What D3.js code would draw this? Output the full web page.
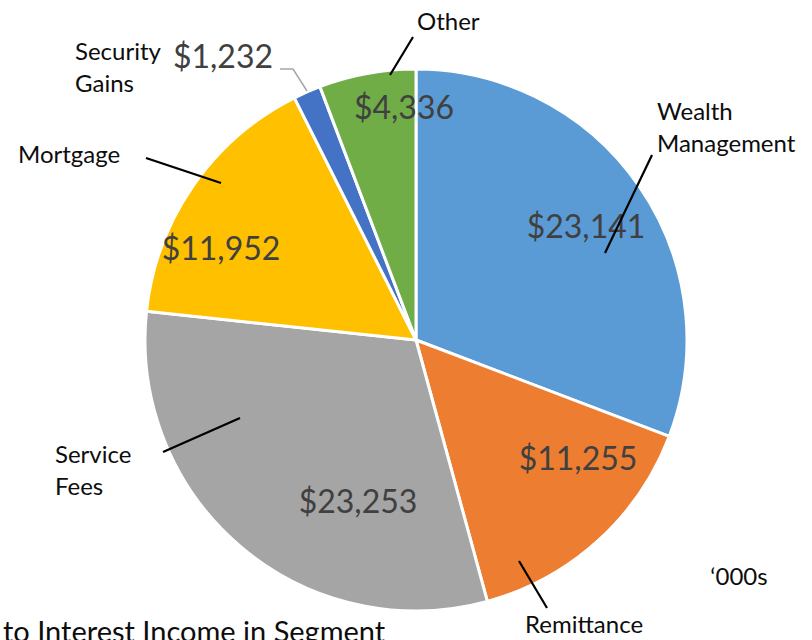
<!DOCTYPE html>
<html>
<head>
<meta charset="utf-8">
<script src="https://cdn.jsdelivr.net/npm/d3@7"></script>
<style>
  body { margin: 0; background: #fff; }
  svg { display: block; font-family: Lato, "Open Sans", sans-serif; }
</style>
</head>
<body>
<div id="chart"></div>
<script>
// data ('000s)
var categories = ['Wealth Management', 'Remittance', 'Service Fees', 'Mortgage', 'Security Gains', 'Other'];
var values = [23141, 11255, 23253, 11952, 1232, 4336];
var colors = ['#5b9bd5', '#ed7d31', '#a5a5a5', '#ffc000', '#4472c4', '#70ad47'];

// hand placed labels, relative to pie centre (like Excel's dragged labels)
var layout = {
  'Wealth Management': { val: [170, -102], name: [241, -220], lines: ['Wealth', 'Management'], anchor: 'start', lead: [[236, -185], [189, -87]] },
  'Remittance':        { val: [162, 130],  name: [109, 293],  lines: ['Remittance'], anchor: 'start', lead: [[103, 221], [131, 268]] },
  'Service Fees':      { val: [-58, 173],  name: [-361, 123], lines: ['Service', 'Fees'], anchor: 'start', lead: [[-253, 112], [-176, 78]] },
  'Mortgage':          { val: [-195, -80], name: [-398, -177], lines: ['Mortgage'], anchor: 'start', lead: [[-270, -182], [-195, -157]] },
  'Security Gains':    { val: [-193, -272], name: [-341, -280], lines: ['Security', 'Gains'], anchor: 'start', lead: [[-136, -271], [-123, -271], [-109, -249]], leadColor: '#a6a6a6', leadWidth: 1.5 },
  'Other':             { val: [-12, -221], name: [1, -310],  lines: ['Other'], anchor: 'start', lead: [[-26, -265], [-3, -303]] }
};

var W = 812, H = 640;
var cx = 416, cy = 340, R = 271;

var svg = d3.select('#chart').append('svg')
  .attr('width', W)
  .attr('height', H);

var data = categories.map(function(c, i) { return { name: c, value: values[i], color: colors[i] }; });

var pie = d3.pie()
  .sort(null)
  .value(function(d) { return d.value; });

var arc = d3.arc()
  .innerRadius(0)
  .outerRadius(R);

var g = svg.append('g')
  .attr('transform', 'translate(' + cx + ',' + cy + ')');

g.selectAll('path.slice')
  .data(pie(data))
  .enter()
  .append('path')
  .attr('class', 'slice')
  .attr('d', arc)
  .attr('fill', function(d) { return d.data.color; })
  .attr('stroke', '#fff')
  .attr('stroke-width', 3)
  .attr('stroke-linejoin', 'round');

var fmt = d3.format('$,');

// value labels
g.selectAll('text.val')
  .data(data)
  .enter()
  .append('text')
  .attr('class', 'val')
  .attr('x', function(d) { return layout[d.name].val[0]; })
  .attr('y', function(d) { return layout[d.name].val[1]; })
  .attr('text-anchor', 'middle')
  .attr('fill', '#404040')
  .attr('font-size', '32px')
  .text(function(d) { return fmt(d.value); });

// leader lines
var line = d3.line();
g.selectAll('path.lead')
  .data(data)
  .enter()
  .append('path')
  .attr('class', 'lead')
  .attr('d', function(d) { return line(layout[d.name].lead); })
  .attr('fill', 'none')
  .attr('stroke', function(d) { return layout[d.name].leadColor || '#000'; })
  .attr('stroke-width', function(d) { return layout[d.name].leadWidth || 2.2; });

// category labels
g.selectAll('text.name')
  .data(data)
  .enter()
  .append('text')
  .attr('class', 'name')
  .attr('x', function(d) { return layout[d.name].name[0]; })
  .attr('y', function(d) { return layout[d.name].name[1]; })
  .attr('text-anchor', function(d) { return layout[d.name].anchor; })
  .attr('fill', '#0d0d0d')
  .attr('font-size', '24px')
  .each(function(d) {
    var t = d3.select(this);
    layout[d.name].lines.forEach(function(s, i) {
      t.append('tspan')
        .attr('x', layout[d.name].name[0])
        .attr('dy', i === 0 ? 0 : 32)
        .text(s);
    });
  });

// units note
svg.append('text')
  .attr('x', 739)
  .attr('y', 585)
  .attr('text-anchor', 'middle')
  .attr('fill', '#0d0d0d')
  .attr('font-size', '24px')
  .text('\u2018000s');

// title that runs off the bottom edge
svg.append('text')
  .attr('x', 3)
  .attr('y', 642)
  .attr('fill', '#0d0d0d')
  .attr('font-size', '29px')
  .text('to Interest Income in Segment');
</script>
</body>
</html>
